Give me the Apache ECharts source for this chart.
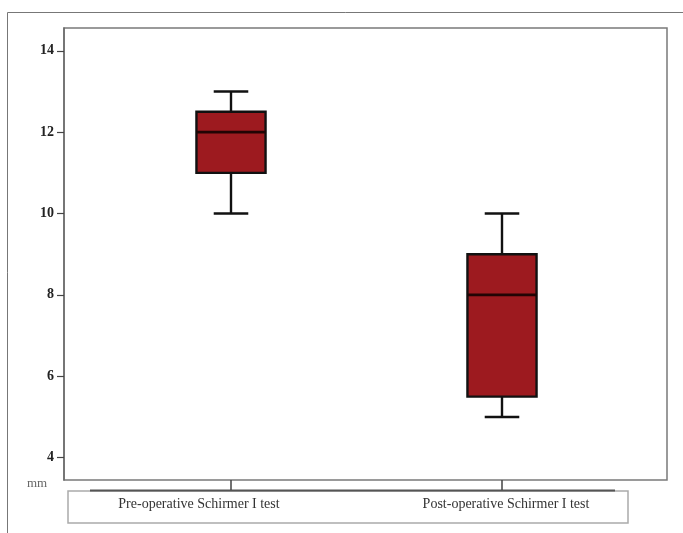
<!DOCTYPE html>
<html>
<head>
<meta charset="utf-8">
<script src="https://cdn.jsdelivr.net/npm/echarts@6/dist/echarts.min.js"></script>
<style>html,body{margin:0;padding:0;background:#fff;}#c{width:683px;height:533px;}</style>
</head>
<body>
<div id="c"></div>
<script>
const categories = ['Pre-operative Schirmer I test', 'Post-operative Schirmer I test'];
const whiskerLow = [10, 5];
const q1 = [11, 5.5];
const median = [12, 8];
const q3 = [12.5, 9];
const whiskerHigh = [13, 10];
const yTicks = [4, 6, 8, 10, 12, 14];
const yUnit = 'mm';
const yMin = 3.45, yMax = 14.56;

const boxData = categories.map((c, i) => [i, whiskerLow[i], q1[i], median[i], q3[i], whiskerHigh[i]]);

const chart = echarts.init(document.getElementById('c'), null, {renderer: 'canvas'});
const serif = 'Liberation Serif';
const gTop = 28, gBottom = 53;

chart.setOption({
  animation: false,
  backgroundColor: '#fff',
  grid: [
    {left: 64, right: 16, top: gTop, bottom: gBottom, show: true, borderColor: '#7a7a7a', borderWidth: 1.5, backgroundColor: 'transparent'},
    {left: 95.5, right: 45.5, top: gTop, bottom: gBottom},
    {left: 45.5, right: 23.5, top: gTop, bottom: gBottom}
  ],
  xAxis: [
    {gridIndex: 0, type: 'value', show: false},
    {gridIndex: 1, type: 'category', data: categories, boundaryGap: true,
      axisLine: {show: false},
      axisTick: {show: true, alignWithLabel: true, length: 10, lineStyle: {color: '#444', width: 1.5}},
      axisLabel: {show: false}},
    {gridIndex: 2, type: 'category', data: categories, boundaryGap: true,
      axisLine: {show: false}, axisTick: {show: false},
      axisLabel: {margin: 17, fontFamily: serif, fontSize: 14, color: '#333'}}
  ],
  yAxis: [
    {gridIndex: 0, type: 'value', min: yMin, max: yMax,
      axisLine: {show: true, lineStyle: {color: '#6a6a6a', width: 1.5}},
      axisTick: {show: true, customValues: yTicks, length: 7, lineStyle: {color: '#444', width: 1.2}},
      axisLabel: {customValues: yTicks, margin: 10, fontFamily: serif, fontWeight: 'bold', fontSize: 14, color: '#222'},
      splitLine: {show: false}},
    {gridIndex: 1, type: 'value', min: yMin, max: yMax, show: false},
    {gridIndex: 2, type: 'value', min: yMin, max: yMax, show: false}
  ],
  series: [{
    type: 'custom',
    xAxisIndex: 1, yAxisIndex: 1,
    data: boxData,
    encode: {x: 0, y: [1, 2, 3, 4, 5]},
    renderItem: function (params, api) {
      const x = api.value(0);
      const pMin = api.coord([x, api.value(1)]);
      const pQ1 = api.coord([x, api.value(2)]);
      const pMed = api.coord([x, api.value(3)]);
      const pQ3 = api.coord([x, api.value(4)]);
      const pMax = api.coord([x, api.value(5)]);
      const band = api.size([1, 0])[0];
      const bw = band * 0.255;
      const cw = bw / 2;
      const cx = pMed[0];
      const ls = {stroke: '#111', lineWidth: 2.4};
      return {type: 'group', children: [
        {type: 'line', shape: {x1: cx, y1: pMax[1], x2: cx, y2: pQ3[1]}, style: ls},
        {type: 'line', shape: {x1: cx, y1: pQ1[1], x2: cx, y2: pMin[1]}, style: ls},
        {type: 'line', shape: {x1: cx - cw / 2, y1: pMax[1], x2: cx + cw / 2, y2: pMax[1]}, style: ls},
        {type: 'line', shape: {x1: cx - cw / 2, y1: pMin[1], x2: cx + cw / 2, y2: pMin[1]}, style: ls},
        {type: 'rect', shape: {x: cx - bw / 2, y: pQ3[1], width: bw, height: pQ1[1] - pQ3[1]}, style: {fill: '#9d1a1f', stroke: '#111', lineWidth: 2.4}},
        {type: 'line', shape: {x1: cx - bw / 2, y1: pMed[1], x2: cx + bw / 2, y2: pMed[1]}, style: {stroke: '#220404', lineWidth: 2.8}}
      ]};
    }
  }],
  graphic: [
    {type: 'polyline', shape: {points: [[7.5, 533], [7.5, 12.5], [683, 12.5]]}, style: {stroke: '#777', lineWidth: 1, fill: null}, silent: true},
    {type: 'rect', shape: {x: 68, y: 491, width: 560, height: 32}, style: {stroke: '#aaa', lineWidth: 1.5, fill: null}, silent: true},
    {type: 'line', shape: {x1: 90, y1: 490.5, x2: 615, y2: 490.5}, style: {stroke: '#555', lineWidth: 2}, silent: true},
    {type: 'text', x: 27, y: 477, style: {text: yUnit, font: '13px "Liberation Serif"', fill: '#666'}, silent: true}
  ]
});
</script>
</body>
</html>
